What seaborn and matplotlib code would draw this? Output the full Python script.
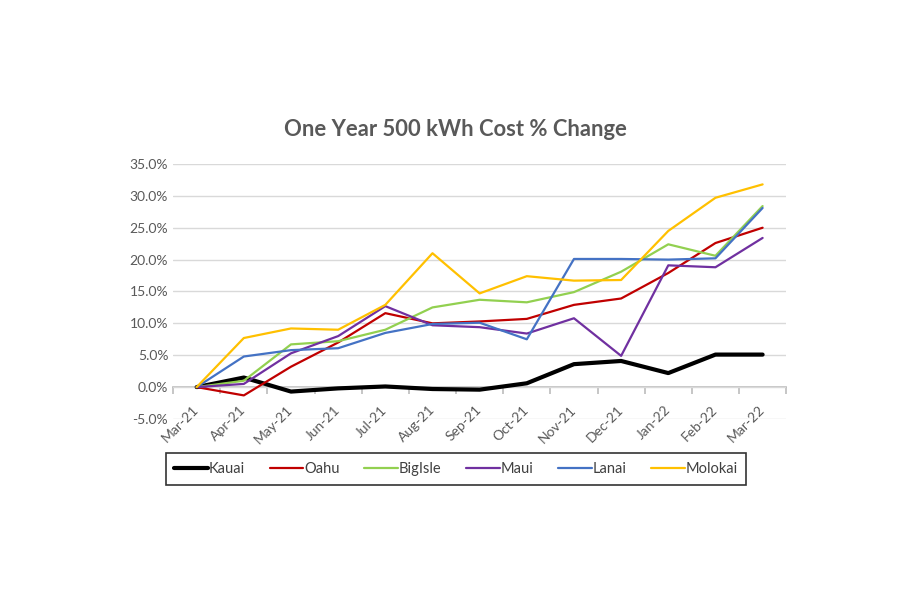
import matplotlib
matplotlib.use("Agg")
import matplotlib.pyplot as plt
import matplotlib.ticker as mtick
import seaborn as sns
import pandas as pd
import numpy as np

months = ["Mar-21", "Apr-21", "May-21", "Jun-21", "Jul-21", "Aug-21", "Sep-21",
          "Oct-21", "Nov-21", "Dec-21", "Jan-22", "Feb-22", "Mar-22"]

kauai = [0.0, 1.5, -0.7, -0.2, 0.1, -0.3, -0.4, 0.6, 3.6, 4.1, 2.2, 5.1, 5.1]
oahu = [0.0, -1.3, 3.2, 7.0, 11.6, 10.0, 10.3, 10.7, 12.9, 13.9, 17.9, 22.6, 25.0]
bigisle = [0.0, 1.0, 6.7, 7.2, 9.0, 12.5, 13.7, 13.3, 14.9, 18.1, 22.4, 20.6, 28.4]
maui = [0.0, 0.5, 5.3, 8.0, 12.7, 9.7, 9.4, 8.4, 10.8, 4.9, 19.1, 18.8, 23.4]
lanai = [0.0, 4.8, 5.8, 6.1, 8.5, 9.9, 10.1, 7.5, 20.1, 20.1, 20.0, 20.2, 28.1]
molokai = [0.0, 7.7, 9.2, 9.0, 12.9, 21.0, 14.7, 17.4, 16.7, 16.8, 24.5, 29.7, 31.8]

islands = ["Kauai", "Oahu", "BigIsle", "Maui", "Lanai", "Molokai"]
series = [kauai, oahu, bigisle, maui, lanai, molokai]
colors = ["#000000", "#C00000", "#92D050", "#7030A0", "#4472C4", "#FFC000"]
widths = [3.0, 1.6, 1.6, 1.6, 1.6, 1.6]

df = pd.DataFrame({"month": months})
for name, vals in zip(islands, series):
    df[name] = vals
long = df.melt(id_vars="month", var_name="island", value_name="pct")
long["x"] = long["month"].map({m: i for i, m in enumerate(months)})

sns.set_theme(style="white")
plt.rcParams["font.family"] = ["Lato", "DejaVu Sans"]

fig = plt.figure(figsize=(9.11, 6.0), dpi=100)
ax = fig.add_axes([0.190, 0.3017, 0.673, 0.425])

for name, col, lw in zip(islands, colors, widths):
    sub = long[long["island"] == name]
    sns.lineplot(data=sub, x="x", y="pct", color=col, linewidth=lw,
                 label=name, ax=ax, zorder=3 if name != "Kauai" else 2)

ax.set_xlim(-0.5, len(months) - 0.5)
ax.set_ylim(-5, 35)
ax.set_yticks(np.arange(-5, 36, 5))
ax.yaxis.set_major_formatter(mtick.FuncFormatter(lambda v, p: f"{v:.1f}%"))
ax.set_xticks(range(len(months)))
ax.set_xticklabels(months, rotation=45, ha="right", va="center",
                   rotation_mode="anchor")
ax.tick_params(axis="both", length=0, labelsize=10, labelcolor="#595959")
ax.tick_params(axis="x", pad=-8)
ax.grid(axis="y", color="#d9d9d9", linewidth=1)
ax.set_axisbelow(True)
for s in ax.spines.values():
    s.set_visible(False)
ax.set_xlabel("")
ax.set_ylabel("")

# horizontal axis line at 0% with tick marks between categories
sec = ax.secondary_xaxis(0.125)
sec.set_xticks(np.arange(-0.5, len(months), 1.0))
sec.tick_params(length=5, color="#bfbfbf", labelbottom=False)
sec.spines["bottom"].set_color("#bfbfbf")

fig.text(0.5, 0.785, "One Year 500 kWh Cost % Change", ha="center", va="center",
         fontsize=15.8, fontweight="bold", color="#595959")

leg = ax.legend(loc="center", bbox_to_anchor=(456 / 911, 1 - 469 / 600),
                bbox_transform=fig.transFigure, ncol=6, frameon=True,
                fancybox=False, edgecolor="black", fontsize=10.5,
                handlelength=2.3, handletextpad=0.05, columnspacing=1.7,
                borderpad=0.6)
leg.get_frame().set_linewidth(1.2)
for t in leg.get_texts():
    t.set_color("#404040")

fig.savefig("out.png", dpi=100, facecolor="white")
